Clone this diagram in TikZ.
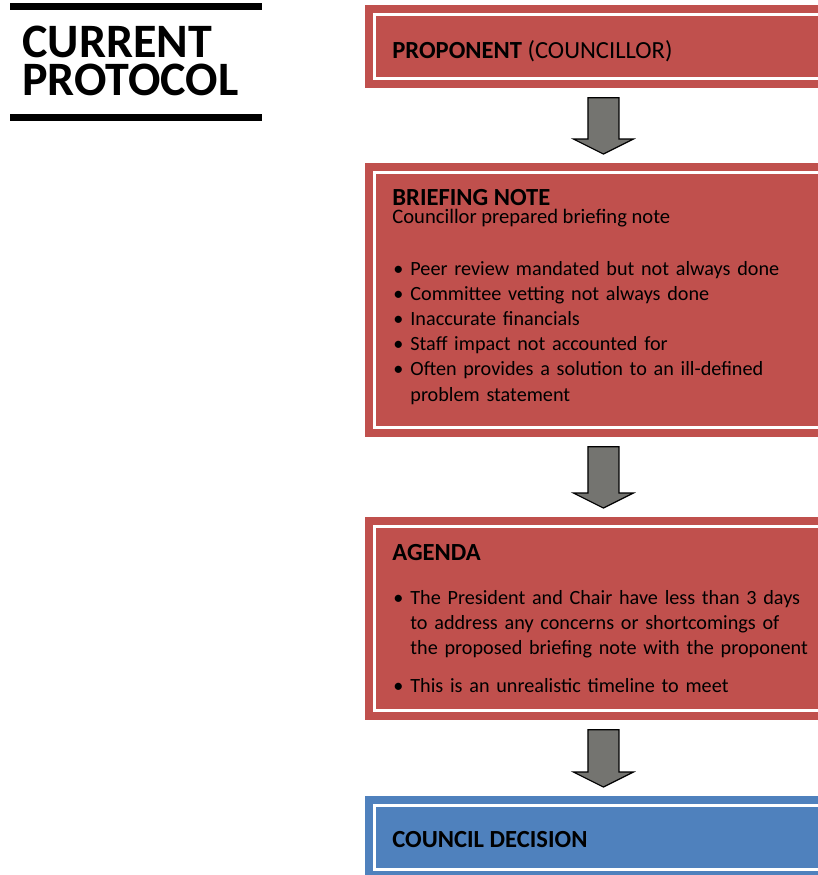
\documentclass[tikz,border=0pt]{standalone}
\usepackage{fontspec}
\setmainfont{Carlito}
\usetikzlibrary{calc}

\definecolor{boxred}{RGB}{192,80,77}
\definecolor{boxblue}{RGB}{79,129,189}
\definecolor{arrgray}{RGB}{116,116,112}

% bullet line with hanging indent
\newcommand\bpoint{\hangindent=8.5pt\hangafter=1\noindent\makebox[8.5pt][l]{\textbullet}}
% block arrow from one card down to the next
\newcommand\flowarrow[2]{%
  \draw[flow] let \p1=(#1.south), \p2=(#2.north) in
    (\x1-7.75pt,\y1-4.5pt) -- (\x1+7.75pt,\y1-4.5pt) -- (\x1+7.75pt,\y2+12pt)
    -- (\x1+15pt,\y2+12pt) -- (\x1,\y2+4.5pt) -- (\x1-15pt,\y2+12pt)
    -- (\x1-7.75pt,\y2+12pt) -- cycle;}

\begin{document}
\begin{tikzpicture}[x=0.5pt, y=-0.5pt]
  % -----------------------------
  % STYLES
  % -----------------------------
  \tikzset{
    card/.style={anchor=north west, inner sep=0pt, minimum width=238pt,
      path picture={\draw[white, line width=1.5pt]
        ([shift={(9.5,9.5)}]path picture bounding box.north west) rectangle
        ([shift={(-9.5,-9.5)}]path picture bounding box.south east);}},
    redcard/.style={card, fill=boxred},
    bluecard/.style={card, fill=boxblue},
    hd/.style={anchor=base west, inner sep=0pt, text depth=0pt,
      font=\fontsize{12.3}{14}\selectfont\bfseries},
    txt/.style={anchor=base west, inner sep=0pt, font=\fontsize{10.3}{12.6}\selectfont},
    lst/.style={txt, text width=230pt, align=left, font=\fontsize{10.1}{12.6}\selectfont},
    flow/.style={fill=arrgray, draw=black, line width=0.6pt, line join=miter},
    ttl/.style={anchor=base west, inner sep=0pt, text width=130pt, align=left,
      font=\fontsize{24}{19}\selectfont\bfseries},
  }

  \useasboundingbox (0,0) rectangle (818,875);
  \clip (0,0) rectangle (818,875);

  % -----------------------------
  % TITLE
  % -----------------------------
  \draw[line width=3.5pt] (10,6.5) -- (262,6.5);
  \node[ttl] (title) at (22,57) {CURRENT\\PROTOCOL};
  \draw[line width=3.5pt] (10,117.5) -- (262,117.5);

  % -----------------------------
  % CARDS
  % -----------------------------
  \node[redcard, minimum height=41.5pt] (prop) at (365,5) {};
  \node[redcard, minimum height=137pt] (brief) at (365,163) {};
  \node[redcard, minimum height=101.5pt] (agenda) at (365,517) {};
  \node[bluecard, minimum height=41.5pt] (decision) at (365,796) {};

  % -----------------------------
  % TEXTS
  % -----------------------------
  \node[txt, font=\fontsize{12.3}{14}\selectfont] (propT) at (392,58) {\textbf{PROPONENT} (COUNCILLOR)};

  \node[hd] (briefT) at (392,205) {BRIEFING NOTE};
  \node[txt] (briefS) at (392,223) {Councillor prepared briefing note};
  \node[lst] (briefL) at (393,275) {%
    \bpoint Peer review mandated but not always done\par
    \bpoint Committee vetting not always done\par
    \bpoint Inaccurate financials\par
    \bpoint Staff impact not accounted for\par
    \bpoint Often provides a solution to an ill-defined\newline problem statement\par};

  \node[hd] (agendaT) at (392,560) {AGENDA};
  \node[lst] (agendaL) at (393,604) {%
    \bpoint The President and Chair have less than 3 days\newline to address any concerns or shortcomings of\newline the proposed briefing note with the proponent\par
    \vspace{6.5pt}%
    \bpoint This is an unrealistic timeline to meet\par};

  \node[hd] (decisionT) at (392,847) {COUNCIL DECISION};

  % -----------------------------
  % ARROWS
  % -----------------------------
  \flowarrow{prop}{brief}
  \flowarrow{brief}{agenda}
  \flowarrow{agenda}{decision}
\end{tikzpicture}
\end{document}
